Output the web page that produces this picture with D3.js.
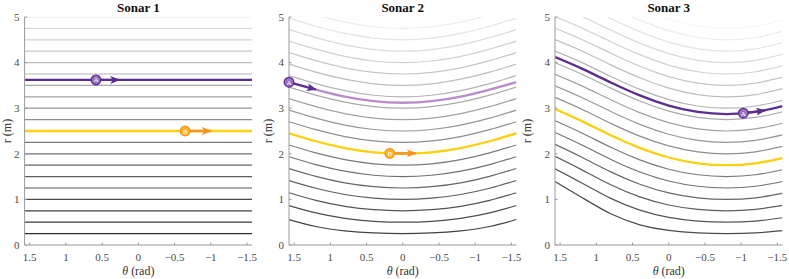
<!DOCTYPE html>
<html lang="en">
<head>
<meta charset="UTF-8">
<title>Sonar range curves</title>
<script src="https://d3js.org/d3.v7.min.js"></script>
<style>
    body{
        margin: 0;
        background: #fff;
    }
    svg text{
        font-family: "Liberation Serif", "Times New Roman", Times, "DejaVu Serif", serif;
    }
    .tick-label{
        font-size: 11px;
        fill: #4a4a4a;
    }
    .title{
        font-size: 13px;
        font-weight: bold;
        fill: #111;
    }
    .axis-label{
        font-size: 12px;
        fill: #333;
    }
</style>
</head>
<body>
<svg id="main" width="789" height="279"></svg>
<script>
const thetaGrid = [1.5708, 1.2, 0.8, 0.4, 0, -0.4, -0.8, -1.2, -1.5708]

const xTicks = [1.5, 1, 0.5, 0, -0.5, -1, -1.5]
const yTicks = [0, 1, 2, 3, 4, 5]

// sonar 1: flat range lines
const sonar1Ranges = [0.25, 0.5, 0.75, 1, 1.25, 1.5, 1.75, 2, 2.25, 2.5, 2.75, 3, 3.25, 3.5, 3.75, 4, 4.25, 4.5, 4.75, 5, 5.25, 5.5]

// sonar 2: same range lines as seen from sonar 2
const sonar2Ranges = [0.75, 1, 1.25, 1.5, 1.75, 2, 2.25, 2.5, 2.75, 3, 3.25, 3.5, 3.75, 4, 4.25, 4.5, 4.75, 5, 5.25, 5.5]
const sonar2Curves = [
    [0.559, 0.406, 0.310, 0.264, 0.25, 0.264, 0.310, 0.406, 0.559],
    [0.866, 0.704, 0.585, 0.520, 0.50, 0.520, 0.585, 0.704, 0.866],
    [1.146, 0.979, 0.849, 0.774, 0.75, 0.774, 0.849, 0.979, 1.146],
    [1.414, 1.245, 1.108, 1.027, 1.00, 1.027, 1.108, 1.245, 1.414],
    [1.677, 1.506, 1.364, 1.279, 1.25, 1.279, 1.364, 1.506, 1.677],
    [1.936, 1.764, 1.619, 1.530, 1.50, 1.530, 1.619, 1.764, 1.936],
    [2.194, 2.020, 1.873, 1.781, 1.75, 1.781, 1.873, 2.020, 2.194],
    [2.449, 2.275, 2.126, 2.032, 2.00, 2.032, 2.126, 2.275, 2.449],
    [2.704, 2.529, 2.378, 2.283, 2.25, 2.283, 2.378, 2.529, 2.704],
    [2.958, 2.782, 2.630, 2.533, 2.50, 2.533, 2.630, 2.782, 2.958],
    [3.211, 3.035, 2.882, 2.784, 2.75, 2.784, 2.882, 3.035, 3.211],
    [3.464, 3.288, 3.133, 3.034, 3.00, 3.034, 3.133, 3.288, 3.464],
    [3.717, 3.540, 3.384, 3.284, 3.25, 3.284, 3.384, 3.540, 3.717],
    [3.969, 3.792, 3.636, 3.535, 3.50, 3.535, 3.636, 3.792, 3.969],
    [4.220, 4.043, 3.886, 3.785, 3.75, 3.785, 3.886, 4.043, 4.220],
    [4.472, 4.295, 4.137, 4.035, 4.00, 4.035, 4.137, 4.295, 4.472],
    [4.724, 4.546, 4.388, 4.286, 4.25, 4.286, 4.388, 4.546, 4.724],
    [4.975, 4.797, 4.639, 4.536, 4.50, 4.536, 4.639, 4.797, 4.975],
    [5.226, 5.048, 4.889, 4.786, 4.75, 4.786, 4.889, 5.048, 5.226],
    [5.477, 5.299, 5.140, 5.036, 5.00, 5.036, 5.140, 5.299, 5.477]
]

// sonar 3
const sonar3Ranges = [1, 1.25, 1.5, 1.75, 2, 2.25, 2.5, 2.75, 3, 3.25, 3.5, 3.75, 4, 4.25, 4.5, 4.75, 5, 5.25, 5.5]
const sonar3Curves = [
    [1.390, 1.043, 0.684, 0.443, 0.320, 0.266, 0.250, 0.266, 0.315],
    [1.673, 1.360, 1.022, 0.765, 0.606, 0.525, 0.500, 0.525, 0.598],
    [1.944, 1.648, 1.321, 1.055, 0.878, 0.781, 0.750, 0.781, 0.868],
    [2.208, 1.924, 1.603, 1.333, 1.143, 1.035, 1.000, 1.035, 1.132],
    [2.468, 2.192, 1.876, 1.602, 1.404, 1.288, 1.250, 1.288, 1.392],
    [2.726, 2.456, 2.143, 1.867, 1.662, 1.540, 1.500, 1.540, 1.650],
    [2.982, 2.717, 2.407, 2.129, 1.919, 1.792, 1.750, 1.792, 1.907],
    [3.238, 2.976, 2.668, 2.388, 2.174, 2.044, 2.000, 2.044, 2.162],
    [3.492, 3.234, 2.927, 2.646, 2.429, 2.295, 2.250, 2.295, 2.416],
    [3.745, 3.490, 3.184, 2.902, 2.683, 2.546, 2.500, 2.546, 2.670],
    [3.998, 3.745, 3.441, 3.158, 2.936, 2.797, 2.750, 2.797, 2.923],
    [4.251, 4.000, 3.696, 3.413, 3.189, 3.048, 3.000, 3.048, 3.175],
    [4.503, 4.254, 3.951, 3.667, 3.441, 3.299, 3.250, 3.299, 3.428],
    [4.755, 4.507, 4.205, 3.920, 3.693, 3.549, 3.500, 3.549, 3.680],
    [5.007, 4.760, 4.459, 4.174, 3.945, 3.800, 3.750, 3.800, 3.932],
    [5.259, 5.013, 4.712, 4.427, 4.197, 4.050, 4.000, 4.050, 4.183],
    [5.510, 5.265, 4.965, 4.679, 4.449, 4.301, 4.250, 4.301, 4.435],
    [5.762, 5.518, 5.218, 4.932, 4.700, 4.551, 4.500, 4.551, 4.686],
    [6.013, 5.770, 5.471, 5.184, 4.951, 4.801, 4.750, 4.801, 4.937]
]

// highlighted paths (A = purple, B = yellow)
const pathA1 = [3.62, 3.62, 3.62, 3.62, 3.62, 3.62, 3.62, 3.62, 3.62]
const pathA2 = [3.57, 3.409, 3.254, 3.154, 3.12, 3.154, 3.254, 3.409, 3.57]
const pathA3 = [4.120, 3.867, 3.563, 3.280, 3.057, 2.917, 2.870, 2.917, 3.044]
const pathB1 = [2.5, 2.5, 2.5, 2.5, 2.5, 2.5, 2.5, 2.5, 2.5]
const pathB2 = [2.449, 2.275, 2.126, 2.032, 2.00, 2.032, 2.126, 2.275, 2.449]
const pathB3 = [2.982, 2.717, 2.407, 2.129, 1.919, 1.792, 1.750, 1.792, 1.907]

// target markers with their motion arrows
const markers = [
    {panel: 0, label: "A", theta: 0.585, r: 3.62, tipTheta: 0.265, tipR: 3.62},
    {panel: 0, label: "B", theta: -0.645, r: 2.5, tipTheta: -1.0, tipR: 2.5},
    {panel: 1, label: "A", theta: 1.5708, r: 3.57, tipTheta: 1.2, tipR: 3.41},
    {panel: 1, label: "B", theta: 0.18, r: 2.01, tipTheta: -0.18, tipR: 2.01},
    {panel: 2, label: "A", theta: -1.03, r: 2.89, tipTheta: -1.33, tipR: 2.95}
]

const panels = [
    {title: "Sonar 1", x0: 24.6, ylab: 10.5, ranges: sonar1Ranges, curves: sonar1Ranges.map(v => thetaGrid.map(() => v)), A: pathA1, B: pathB1, lightA: false},
    {title: "Sonar 2", x0: 289, ylab: 272, ranges: sonar2Ranges, curves: sonar2Curves, A: pathA2, B: pathB2, lightA: true},
    {title: "Sonar 3", x0: 555, ylab: 530.5, ranges: sonar3Ranges, curves: sonar3Curves, A: pathA3, B: pathB3, lightA: false}
]

const W = 227.5, plotTop = 17, plotBottom = 245
const purple = "#5b2d8e", lightPurple = "#b98bcb", yellow = "#fcd20f", orange = "#f7941d"

const svg = d3.select("#main")
const defs = svg.append("defs")

function arrowHead(id, color){
    defs.append("marker")
        .attr("id", id)
        .attr("viewBox", "0 0 10 8")
        .attr("refX", 9)
        .attr("refY", 4)
        .attr("markerUnits", "userSpaceOnUse")
        .attr("markerWidth", 10)
        .attr("markerHeight", 8)
        .attr("orient", "auto")
        .append("path")
        .attr("d", "M0,0L10,4L0,8L2.5,4Z")
        .attr("fill", color)
}
arrowHead("headA", purple)
arrowHead("headB", orange)

const grey = d3.scaleLinear().domain([0.25, 5.5]).range(["#2e2e2e", "#f7f7f7"]).clamp(true)
const y = d3.scaleLinear().domain([0, 5]).range([plotBottom, plotTop])

panels.forEach((p, i) => {
    const x = d3.scaleLinear().domain([Math.PI / 2, -Math.PI / 2]).range([p.x0, p.x0 + W])
    const g = svg.append("g")

    defs.append("clipPath").attr("id", "clip" + i)
        .append("rect")
        .attr("x", p.x0).attr("y", plotTop)
        .attr("width", W).attr("height", plotBottom - plotTop)

    const line = d3.line()
        .x((d, k) => x(thetaGrid[k]))
        .y(d => y(d))
        .curve(d3.curveNatural)

    const plot = g.append("g").attr("clip-path", "url(#clip" + i + ")")

    plot.selectAll(".rline")
        .data(p.curves)
        .join("path")
        .attr("class", "rline")
        .attr("d", line)
        .attr("fill", "none")
        .attr("stroke", (d, k) => grey(p.ranges[k]))
        .attr("stroke-width", 1.2)

    plot.append("path")
        .attr("d", line(p.B))
        .attr("fill", "none")
        .attr("stroke", yellow)
        .attr("stroke-width", 2.3)

    plot.append("path")
        .attr("d", line(p.A))
        .attr("fill", "none")
        .attr("stroke", p.lightA ? lightPurple : purple)
        .attr("stroke-width", 2.3)

    // axes
    g.append("line")
        .attr("x1", p.x0).attr("x2", p.x0)
        .attr("y1", plotTop).attr("y2", plotBottom)
        .attr("stroke", "#9a9a9a")
    g.append("line")
        .attr("x1", p.x0).attr("x2", p.x0 + W)
        .attr("y1", plotBottom).attr("y2", plotBottom)
        .attr("stroke", "#9a9a9a")

    g.selectAll(".xt")
        .data(xTicks)
        .join("line")
        .attr("class", "xt")
        .attr("x1", d => x(d)).attr("x2", d => x(d))
        .attr("y1", plotBottom).attr("y2", plotBottom - 2.5)
        .attr("stroke", "#9a9a9a")
    g.selectAll(".xl")
        .data(xTicks)
        .join("text")
        .attr("class", "tick-label xl")
        .attr("x", d => x(d))
        .attr("y", 261)
        .attr("text-anchor", "middle")
        .text(d => d < 0 ? "\u2212" + Math.abs(d) : d)

    g.selectAll(".yt")
        .data(yTicks)
        .join("line")
        .attr("class", "yt")
        .attr("x1", p.x0).attr("x2", p.x0 + 2.5)
        .attr("y1", d => y(d)).attr("y2", d => y(d))
        .attr("stroke", "#9a9a9a")
    g.selectAll(".yl")
        .data(yTicks)
        .join("text")
        .attr("class", "tick-label yl")
        .attr("x", p.x0 - 5)
        .attr("y", d => y(d) + 3.8)
        .attr("text-anchor", "end")
        .text(d => d)

    g.append("text")
        .attr("class", "title")
        .attr("x", p.x0 + W / 2)
        .attr("y", 12)
        .attr("text-anchor", "middle")
        .text(p.title)

    const xl = g.append("text")
        .attr("class", "axis-label")
        .attr("x", p.x0 + W / 2)
        .attr("y", 275)
        .attr("text-anchor", "middle")
    xl.append("tspan").attr("font-style", "italic").text("\u03b8")
    xl.append("tspan").text(" (rad)")

    g.append("text")
        .attr("class", "axis-label")
        .attr("transform", "translate(" + p.ylab + "," + ((plotTop + plotBottom) / 2) + ") rotate(-90)")
        .attr("text-anchor", "middle")
        .text("r (m)")

    // markers and arrows
    markers.filter(m => m.panel === i).forEach(m => {
        const isA = m.label === "A"
        g.append("line")
            .attr("x1", x(m.theta)).attr("y1", y(m.r))
            .attr("x2", x(m.tipTheta)).attr("y2", y(m.tipR))
            .attr("stroke", isA ? purple : orange)
            .attr("stroke-width", isA ? 2.2 : 2.5)
            .attr("marker-end", isA ? "url(#headA)" : "url(#headB)")
        g.append("circle")
            .attr("cx", x(m.theta)).attr("cy", y(m.r))
            .attr("r", 4.8)
            .attr("fill", isA ? "#9c72bf" : "#fbb62a")
            .attr("stroke", isA ? purple : orange)
            .attr("stroke-width", 1.3)
        g.append("text")
            .attr("x", x(m.theta)).attr("y", y(m.r) + 2.5)
            .attr("text-anchor", "middle")
            .attr("font-size", 7)
            .attr("fill", "#fff")
            .text(m.label)
    })
})
</script>
</body>
</html>
